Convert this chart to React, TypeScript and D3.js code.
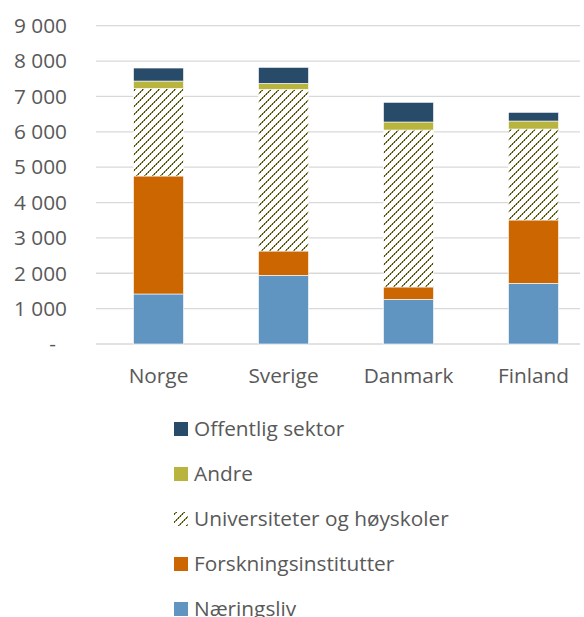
import React from "react";
import * as d3 from "d3";

const categories = ["Norge", "Sverige", "Danmark", "Finland"];
const seriesNames = ["Næringsliv", "Forskningsinstitutter", "Universiteter og høyskoler", "Andre", "Offentlig sektor"];
const naeringsliv = [1414, 1942, 1263, 1716];
const forskningsinstitutter = [3336, 687, 349, 1790];
const universiteter = [2479, 4571, 4438, 2573];
const andre = [206, 170, 227, 226];
const offentlig = [368, 452, 556, 245];
const yTicks = [0, 1000, 2000, 3000, 4000, 5000, 6000, 7000, 8000, 9000];
const legendOrder = ["Offentlig sektor", "Andre", "Universiteter og høyskoler", "Forskningsinstitutter", "Næringsliv"];

const colors: Record<string, string> = {
  "Næringsliv": "#6195c1",
  "Forskningsinstitutter": "#cc6600",
  "Universiteter og høyskoler": "url(#diag)",
  "Andre": "#b9b43d",
  "Offentlig sektor": "#284b69",
};

const FONT = "'Open Sans', sans-serif";
const FS = 20.8;

export default function App() {
  const W = 584, H = 617;
  const x0 = 96, x1 = 596, yTop = 25.7, yBot = 344;
  const x = d3.scaleBand<string>().domain(categories).range([x0, x1]).paddingInner(0.6).paddingOuter(0.3);
  const y = d3.scaleLinear().domain([0, 9000]).range([yBot, yTop]);
  const table = categories.map((c, i) => ({
    cat: c,
    "Næringsliv": naeringsliv[i],
    "Forskningsinstitutter": forskningsinstitutter[i],
    "Universiteter og høyskoler": universiteter[i],
    "Andre": andre[i],
    "Offentlig sektor": offentlig[i],
  }));
  const stacked = d3.stack<any>().keys(seriesNames)(table);
  const fmt = (v: number) => (v === 0 ? "-" : d3.format(",")(v).replace(/,/g, " "));

  return (
    <svg width={W} height={H} style={{ position: "absolute", left: 0, top: 0, background: "#fff" }}>
      <defs>
        <pattern id="diag" width={8} height={8} patternUnits="userSpaceOnUse">
          <rect width={8} height={8} fill="#fff" />
          {d3.range(8).map((i) => (
            <rect key={i} x={i} y={7 - i} width={1} height={1} fill={i % 2 ? "#8a8a4a" : "#4f4f14"} />
          ))}
          {d3.range(8).map((i) => (
            <rect key={"b" + i} x={(i + 1) % 8} y={7 - i} width={1} height={1} fill={i % 2 ? "#4f4f14" : "#a0a066"} />
          ))}
        </pattern>
      </defs>
      {yTicks.map((t) => (
        <g key={t}>
          <line x1={x0} x2={580} y1={y(t)} y2={y(t)} stroke="#d9d9d9" strokeWidth={1.3} />
          <text
            x={t === 0 ? 56 : 67}
            y={y(t)}
            dy="0.35em"
            textAnchor="end"
            fontFamily={FONT}
            fontSize={FS}
            fill="#595959"
          >
            {fmt(t)}
          </text>
        </g>
      ))}
      {stacked.map((s) => (
        <g key={s.key}>
          {s.map((d, i) => (
            <rect
              key={i}
              x={x(categories[i])!}
              width={x.bandwidth()}
              y={y(d[1])}
              height={y(d[0]) - y(d[1])}
              fill={colors[s.key]}
              stroke="#fff"
              strokeWidth={0.6}
            />
          ))}
        </g>
      ))}
      {categories.map((c) => (
        <text
          key={c}
          x={x(c)! + x.bandwidth() / 2}
          y={383}
          textAnchor="middle"
          fontFamily={FONT}
          fontSize={FS}
          fill="#595959"
        >
          {c}
        </text>
      ))}
      {legendOrder.map((n, i) => {
        const cy = 429 + i * 45;
        return (
          <g key={n}>
            <rect x={174} y={cy - 7} width={14} height={14} fill={colors[n]} />
            <text x={194} y={cy} dy="0.35em" fontFamily={FONT} fontSize={FS} fill="#595959">
              {n}
            </text>
          </g>
        );
      })}
    </svg>
  );
}
